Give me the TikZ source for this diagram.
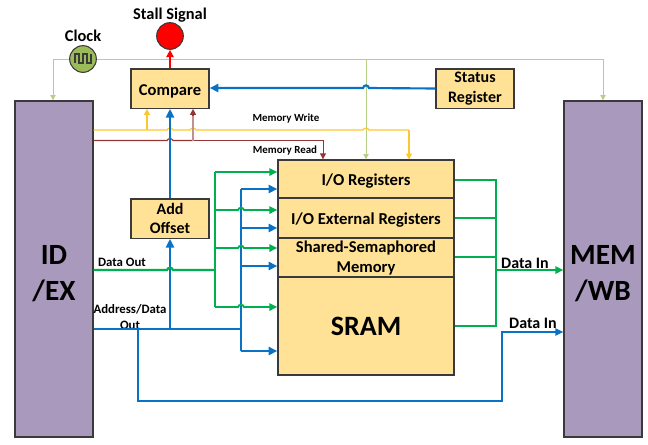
\documentclass[tikz,border=0pt]{standalone}
\usepackage{fontspec}
\setmainfont{Carlito}
\usetikzlibrary{arrows.meta,calc}
\definecolor{fillY}{HTML}{FFE296}
\definecolor{fillP}{HTML}{A99ABD}
\definecolor{edgeK}{HTML}{3A3A3A}
\definecolor{cGreen}{HTML}{00B050}
\definecolor{cBlue}{HTML}{0A72C4}
\definecolor{cYel}{HTML}{FFC72E}
\definecolor{cBrown}{HTML}{943634}
\definecolor{cClk}{HTML}{B5CF85}
\definecolor{fillClk}{HTML}{9BBB59}
\tikzset{
  x=0.75pt,y=-0.75pt,
  box/.style={draw=edgeK,line width=1pt,fill=fillY,inner sep=0pt,align=center,font=\fontsize{12}{14.5}\selectfont\bfseries,execute at begin node={\rule{0pt}{12pt}}},
  stage/.style={draw=edgeK,line width=1pt,fill=fillP,inner sep=0pt,align=center,minimum width=58.5pt,minimum height=252pt,font=\fontsize{22}{27.5}\selectfont\bfseries},
  lab/.style={inner sep=0pt,align=center,font=\fontsize{8.2}{11}\selectfont\bfseries},
  big/.style={inner sep=0pt,align=center,font=\fontsize{12.3}{14}\selectfont\bfseries},
  clkline/.style={draw=cClk,line width=0.7pt},
  clkarr/.style={clkline,-{Triangle[length=4pt,width=4pt]}},
  gline/.style={draw=cGreen,line width=1.4pt},
  garr/.style={gline,-{Triangle[length=6pt,width=5.5pt]}},
  bline/.style={draw=cBlue,line width=1.6pt},
  barr/.style={bline,-{Triangle[length=6.5pt,width=6pt]}},
  yline/.style={draw=cYel,line width=0.9pt},
  yarr/.style={yline,-{Triangle[length=4.5pt,width=4.5pt]}},
  brline/.style={draw=cBrown,line width=0.9pt},
  brarr/.style={brline,-{Triangle[length=4.5pt,width=4.5pt]}},
}
\begin{document}
\begin{tikzpicture}
\useasboundingbox (0,0) rectangle (648,444);
% nodes
\node[stage] (idex) at (54,269) {\rule{0pt}{21pt}ID\\/EX};
\node[stage] (memwb) at (603,269) {\rule{0pt}{21pt}MEM\\/WB};
\node[box,minimum width=58.5pt,minimum height=29.5pt] (cmp) at (170,88.5) {\fontsize{12.4}{15}\selectfont\bfseries Compare};
\node[box,minimum width=58.5pt,minimum height=29.5pt] (status) at (475,88.5) {Status\\Register};
\node[box,minimum width=58.5pt,minimum height=29.5pt] (add) at (170,218.5) {Add\\Offset};
\node[box,minimum width=132pt,minimum height=28.5pt,font=\fontsize{12.5}{15}\selectfont\bfseries] (io) at (366,179) {I/O Registers};
\node[box,minimum width=132pt,minimum height=30pt,font=\fontsize{12.5}{15}\selectfont\bfseries] (ext) at (366,218) {I/O External Registers};
\node[box,minimum width=132pt,minimum height=29.25pt,execute at begin node={\rule{0pt}{10pt}},font=\fontsize{12.4}{15}\selectfont\bfseries] (shared) at (366,257.5) {Shared-Semaphored\\Memory};
\node[box,minimum width=132pt,minimum height=73.5pt,font=\fontsize{21}{24}\selectfont\bfseries,execute at begin node={\rule{0pt}{14pt}}] (sram) at (366,326) {SRAM};
\node[circle,draw=edgeK,line width=0.8pt,fill=red,minimum size=20pt,inner sep=0pt] (stall) at (170,36) {};
\node[circle,draw=edgeK,line width=0.8pt,fill=fillClk,minimum size=20pt,inner sep=0pt] (clk) at (83,59) {};
\draw[edgeK,line width=0.8pt] ($(clk)+(-8,4)$) -- ++(0,-9) -- ++(4,0) -- ++(0,9) -- ++(4,0) -- ++(0,-9) -- ++(4,0) -- ++(0,9) -- ++(4,0) -- ++(0,-9);
% labels
\node[big] (tstall) at (170,15) {Stall Signal};
\node[big] (tclk) at (83,36) {Clock};
\node[lab] (tw) at (286,119) {Memory Write};
\node[lab] (tr) at (285,151) {Memory Read};
\node[lab,font=\fontsize{9.6}{11.5}\selectfont\bfseries] (tdo) at (122,262) {Data Out};
\node[lab,font=\fontsize{9.6}{11.5}\selectfont\bfseries] (tad) at (130,317) {Address/Data\\Out};
\node[big,font=\fontsize{12}{13}\selectfont\bfseries] (tin1) at (525,263) {Data In};
\node[big,font=\fontsize{12}{13}\selectfont\bfseries] (tin2) at (533,323) {Data In};
% junctions
\coordinate (ck) at (366,59);
\coordinate (gv) at (215,270);
\coordinate (gt) at (215,172);
\coordinate (g2) at (215,210);
\coordinate (g3) at (215,248);
\coordinate (gb) at (215,307);
\coordinate (bv) at (241,329);
\coordinate (bt) at (241,189);
\coordinate (b2) at (241,228);
\coordinate (b3) at (241,266);
\coordinate (bb) at (241,351);
\coordinate (bd) at (138,329);
\coordinate (bc) at (138,401);
\coordinate (be) at (502,401);
\coordinate (bf) at (502,332);
\coordinate (rv) at (496,270);
\coordinate (r1) at (496,180);
\coordinate (r2) at (496,218);
\coordinate (r3) at (496,257);
\coordinate (r4) at (496,326);
% clock
\draw[clkarr] (clk.west) -- (53,59) -- (idex.north -| 53,0);
\draw[clkarr] (clk.east) -- (603,59) -- (memwb.north);
\draw[clkarr] (ck) -- (io.north -| ck);
% stall
\draw[draw=red,line width=1.3pt,-{Triangle[length=5.5pt,width=5.5pt]}] (cmp.north) -- (stall.south);
% status to compare
\draw[barr] (status.west) -- (369,88) .. controls (368,84.5) and (364,84.5) .. (363,88) -- (cmp.east |- 0,88);
% memory write
\draw[yline] (idex.east |- 0,130) -- (167,130) .. controls (168,127.5) and (172,127.5) .. (173,130) -- (190,130) .. controls (191,127.5) and (195,127.5) .. (196,130) -- (363,130) .. controls (364,127.5) and (368,127.5) .. (369,130) -- (409,130) -- (409,130);
\draw[yarr] (409,130) -- (409,159.5);
\draw[yarr] (147,130) -- (cmp.south -| 147,0);
% memory read
\draw[brline] (idex.east |- 0,140.5) -- (167,140.5) .. controls (168,138) and (172,138) .. (173,140.5) -- (193,140.5);
\draw[brline,line width=0.7pt,-{Triangle[length=4.5pt,width=4.5pt]}] (193,140.5) -- (323,140.5) -- (io.north -| 323,0);
\draw[draw=cBrown!55,line width=0.9pt] (193,140.5) -- (193,114);
\draw[brarr] (193,116) -- (cmp.south -| 193,0);
% blue verticals
\draw[barr] (add.north) -- (cmp.south);
\draw[barr] (170,329) -- (add.south);
\draw[bline] (idex.east |- bv) -- (bv);
\draw[bline] (bt) -- (bb);
\draw[barr] (bt) -- (io.west |- bt);
\draw[barr] (b2) -- (ext.west |- b2);
\draw[barr] (b3) -- (shared.west |- b3);
\draw[barr] (bb) -- (sram.west |- bb);
\draw[bline,line width=1.1pt,-{Triangle[length=6pt,width=5.5pt]}] (bd) -- (bc) -- (be) -- (bf) -- (memwb.west |- bf);
% green
\draw[gline,line width=1.7pt] (idex.east |- gv) -- (167,270) .. controls (168,267) and (172,267) .. (173,270) -- (gv);
\draw[gline] (gt) -- (gb);
\draw[garr] (gt) -- (io.west |- gt);
\draw[garr] (g2) -- (238,210) .. controls (239,207) and (243,207) .. (244,210) -- (ext.west |- g2);
\draw[garr] (g3) -- (238,248) .. controls (239,245) and (243,245) .. (244,248) -- (shared.west |- g3);
\draw[garr] (gb) -- (238,307) .. controls (239,304) and (243,304) .. (244,307) -- (sram.west |- gb);
\draw[gline] (io.east |- r1) -- (r1) -- (r4) -- (sram.east |- r4);
\draw[gline] (ext.east |- r2) -- (r2);
\draw[gline] (shared.east |- r3) -- (r3);
\draw[garr] (rv) -- (memwb.west |- rv);
\end{tikzpicture}
\end{document}
